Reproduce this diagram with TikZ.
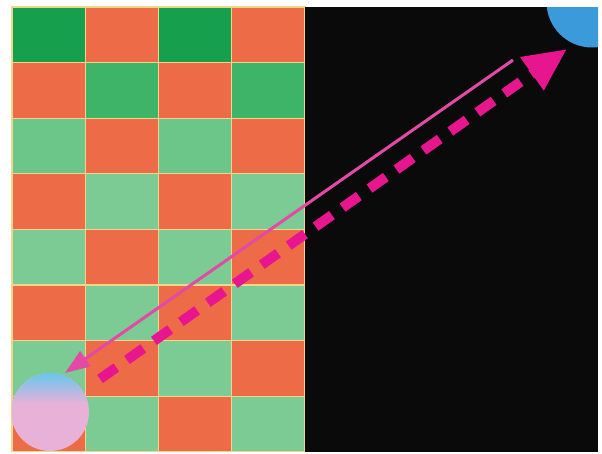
\documentclass[tikz,border=0pt]{standalone}
\usetikzlibrary{arrows.meta}
\definecolor{cred}{HTML}{EE6B48}
\definecolor{cgreenA}{HTML}{16A04E}
\definecolor{cgreenB}{HTML}{3DB468}
\definecolor{cgreenC}{HTML}{6CC68A}
\definecolor{cgreenD}{HTML}{7CCB94}
\definecolor{cgrid}{HTML}{F0D68C}
\definecolor{cblack}{HTML}{0A0A0A}
\definecolor{cblue}{HTML}{3B9BDA}
\definecolor{ccyan}{HTML}{5CC8F0}
\definecolor{cpink}{HTML}{E8B2D8}
\definecolor{cmag}{HTML}{E8168E}
\definecolor{cmagl}{HTML}{E24AA6}
\tikzset{
  cellbox/.style={draw=cgrid, line width=1.2pt},
  solidarrow/.style={cmagl, line width=3pt, -{Triangle[length=25pt,width=18pt]}},
  dasharrow/.style={cmag, line width=10pt, dash pattern=on 20pt off 13pt, -{Triangle[length=43pt,width=38pt]}}
}
\begin{document}
\begin{tikzpicture}[x=1pt,y=-1pt]
\useasboundingbox (0,0) rectangle (602,453);
\fill[white] (0,0) rectangle (602,453);
% checkerboard
\foreach \r in {0,...,7}{
  \foreach \c in {0,...,3}{
    \pgfmathtruncatemacro{\parity}{mod(\r+\c,2)}
    \ifnum\r=0 \def\gc{cgreenA}\else\ifnum\r=1 \def\gc{cgreenB}\else\ifnum\r=2 \def\gc{cgreenC}\else\def\gc{cgreenD}\fi\fi\fi
    \ifnum\parity=0
      \filldraw[cellbox, fill=\gc] ({12+73.25*\c},{7+55.6*\r}) rectangle ++(73.25,55.6);
    \else
      \filldraw[cellbox, fill=cred] ({12+73.25*\c},{7+55.6*\r}) rectangle ++(73.25,55.6);
    \fi
  }
}
% black region
\fill[cblack] (305,7) rectangle (598,452);
% blue quarter disc
\begin{scope}
  \clip (305,7) rectangle (598,452);
  \fill[cblue] (592,2) circle (45.5);
\end{scope}
% pink/cyan disc
\begin{scope}
  \clip (12,7) rectangle (305,452);
  \fill[cpink] (50,412) circle (39);
  \clip (50,412) circle (39);
  \shade[top color=ccyan, bottom color=cpink] (10,370) rectangle (92,404);
\end{scope}
% arrows
\coordinate (sa) at (513,60);
\coordinate (sb) at (65,373);
\coordinate (da) at (100,379);
\coordinate (db) at (567,49);
\draw[solidarrow] (sa) -- (sb);
\draw[dasharrow] (da) -- (db);
\end{tikzpicture}
\end{document}
